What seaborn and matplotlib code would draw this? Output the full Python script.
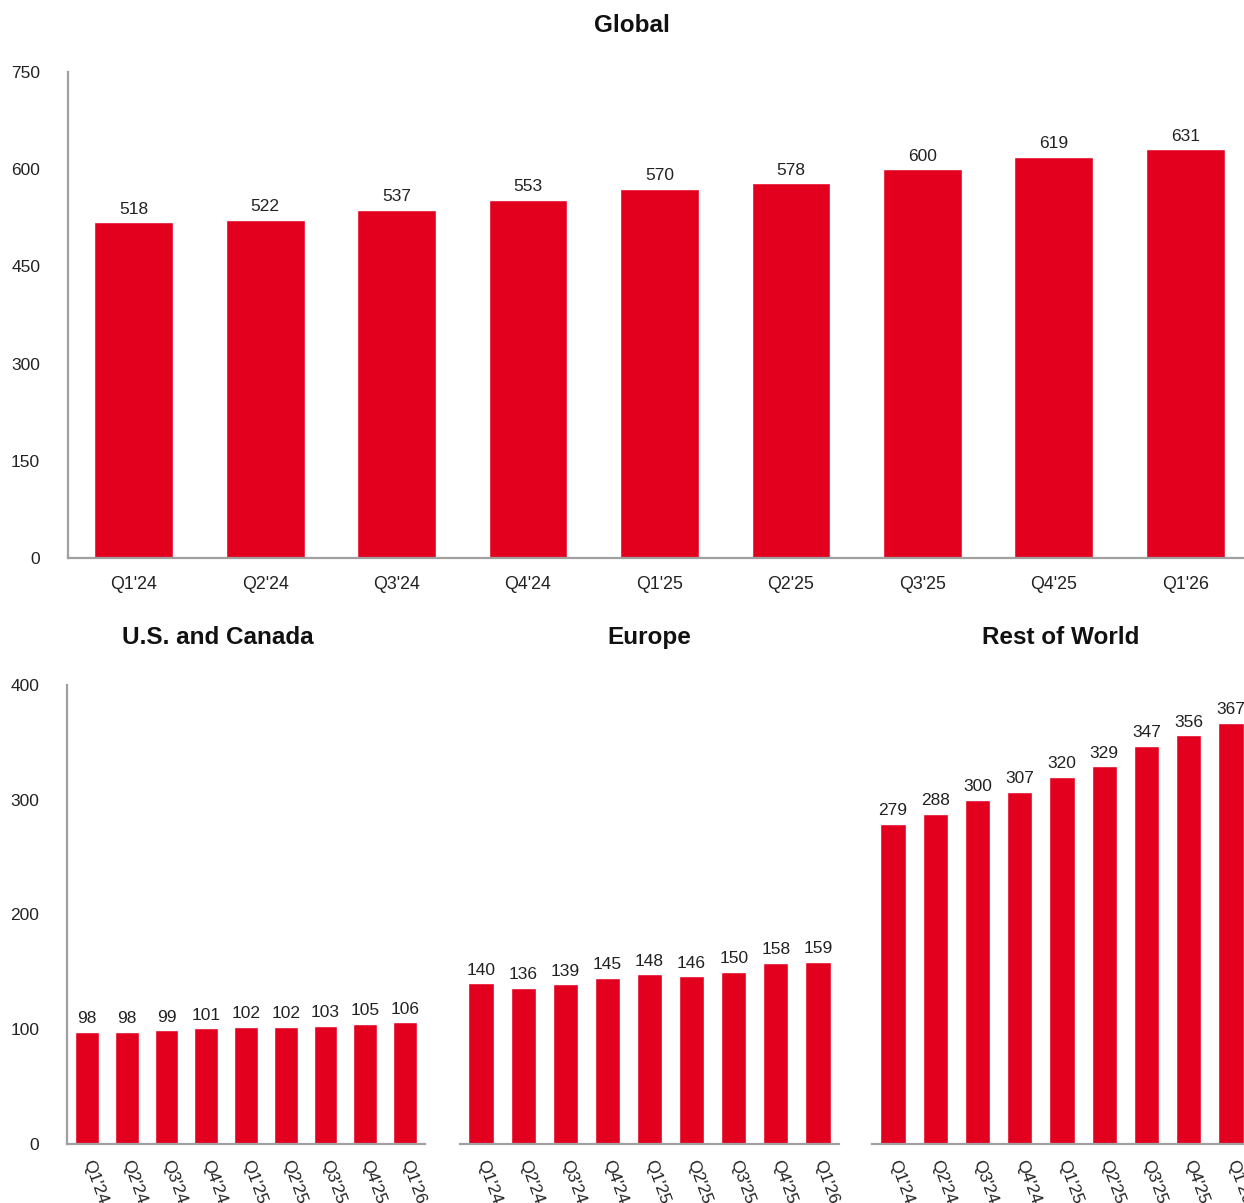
import matplotlib
matplotlib.use("Agg")
import matplotlib.pyplot as plt
import seaborn as sns
import pandas as pd

quarters = ["Q1'24", "Q2'24", "Q3'24", "Q4'24", "Q1'25", "Q2'25", "Q3'25", "Q4'25", "Q1'26"]
global_vals = [518, 522, 537, 553, 570, 578, 600, 619, 631]
us_canada = [98, 98, 99, 101, 102, 102, 103, 105, 106]
europe = [140, 136, 139, 145, 148, 146, 150, 158, 159]
rest_world = [279, 288, 300, 307, 320, 329, 347, 356, 367]

RED = "#E3001F"
GREY = "#A0A0A0"

sns.set_theme(style="white")
plt.rcParams["font.family"] = ["Liberation Sans", "DejaVu Sans"]

W, H = 1244, 1203
fig = plt.figure(figsize=(W / 100, H / 100), dpi=100)

def rect(x0, x1, y0, y1):
    # pixel coords -> figure fractions (y from top)
    return [x0 / W, 1 - y1 / H, (x1 - x0) / W, (y1 - y0) / H]

def draw(ax, vals, ylim, yticks, show_y, rot, fs_lab, xpad):
    df = pd.DataFrame({"q": quarters, "v": vals})
    sns.barplot(data=df, x="q", y="v", color=RED, saturation=1, width=0.6, ax=ax)
    ax.set_xlim(-0.5, len(quarters) - 0.5)
    ax.set_ylim(*ylim)
    ax.set_xlabel("")
    ax.set_ylabel("")
    for c in ax.containers:
        ax.bar_label(c, labels=[str(v) for v in vals], padding=4, fontsize=fs_lab, color="#222222")
    for s in ["top", "right"]:
        ax.spines[s].set_visible(False)
    ax.spines["bottom"].set_color(GREY)
    ax.spines["bottom"].set_linewidth(1.6)
    if show_y:
        ax.spines["left"].set_color(GREY)
        ax.spines["left"].set_linewidth(1.6)
        ax.set_yticks(yticks)
        ax.set_yticklabels([str(t) for t in yticks], fontsize=12.5, color="#222222")
        ax.tick_params(axis="y", length=0, pad=20)
    else:
        ax.spines["left"].set_visible(False)
        ax.set_yticks([])
    ax.tick_params(axis="x", length=0, pad=xpad)
    ax.set_xticks(range(len(quarters)))
    if rot:
        ax.set_xticklabels(quarters, rotation=-70, ha="left", va="center",
                           rotation_mode="anchor", fontsize=12.5, color="#222222")
    else:
        ax.set_xticklabels(quarters, fontsize=12.8, color="#222222")
    ax.set_facecolor("white")

ax0 = fig.add_axes(rect(68, 1251, 72, 558))
draw(ax0, global_vals, (0, 750), [0, 150, 300, 450, 600, 750], True, False, 12.5, 13)

ax1 = fig.add_axes(rect(67, 425, 685, 1144))
draw(ax1, us_canada, (0, 400), [0, 100, 200, 300, 400], True, True, 12.5, 12)
ax2 = fig.add_axes(rect(460, 839, 685, 1144))
draw(ax2, europe, (0, 400), [], False, True, 12.5, 12)
ax3 = fig.add_axes(rect(872, 1252, 685, 1144))
draw(ax3, rest_world, (0, 400), [], False, True, 12.5, 12)

tkw = dict(fontsize=17.5, fontweight="bold", ha="center", va="baseline", color="#111111")
fig.text(632 / W, 1 - 32 / H, "Global", **tkw)
fig.text(218 / W, 1 - 644 / H, "U.S. and Canada", **tkw)
fig.text(649 / W, 1 - 644 / H, "Europe", **tkw)
fig.text(1061 / W, 1 - 644 / H, "Rest of World", **tkw)

fig.savefig("out.png", dpi=100, facecolor="white")
